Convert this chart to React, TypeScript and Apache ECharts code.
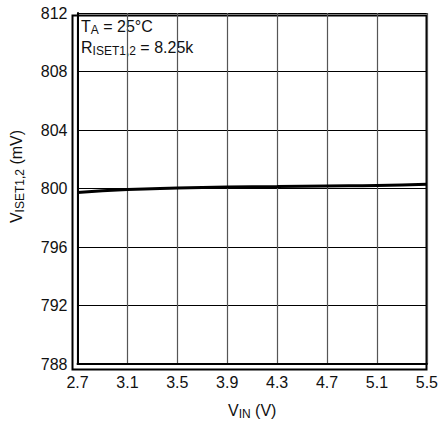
import React, { useEffect, useRef } from "react";
import * as echarts from "echarts";

const X_MIN = 2.7;
const X_MAX = 5.5;
const X_STEP = 0.4;
const Y_MIN = 788;
const Y_MAX = 812;
const Y_STEP = 4;

const vin = [2.7, 3.1, 3.5, 3.9, 4.3, 4.7, 5.1, 5.5];
const viset = [799.73, 799.93, 800.03, 800.1, 800.13, 800.17, 800.2, 800.29];

const FONT = "'Liberation Sans', Arial, sans-serif";

const richMain = { fontFamily: FONT, fontSize: 16, color: "#111" };
const richSub = { fontFamily: FONT, fontSize: 12, color: "#111", padding: [7, 0, 0, 0] };

export default function App() {
  const ref = useRef<HTMLDivElement>(null);
  useEffect(() => {
    const chart = echarts.init(ref.current!, null, { renderer: "svg" });
    const data = vin.map((x, i) => [+(x - X_MIN).toFixed(4), viset[i]]);
    chart.setOption({
      animation: false,
      grid: { left: 75, right: 12, top: 13, bottom: 58, show: false },
      xAxis: {
        type: "value",
        min: 0,
        max: +(X_MAX - X_MIN).toFixed(4),
        interval: X_STEP,
        axisLine: { show: true, onZero: false, lineStyle: { color: "#000", width: 2 } },
        axisTick: { show: false },
        splitLine: { show: true, lineStyle: { color: "#555", width: 1.2 } },
        axisLabel: {
          color: "#111",
          fontFamily: FONT,
          fontSize: 16,
          margin: 10,
          formatter: (v: number) => (v + X_MIN).toFixed(1),
        },
        name: "{m|V}{s|IN}{m| (V)}",
        nameLocation: "middle",
        nameGap: 37,
        nameTextStyle: { rich: { m: richMain, s: richSub } },
      },
      yAxis: {
        type: "value",
        min: Y_MIN,
        max: Y_MAX,
        interval: Y_STEP,
        axisLine: { show: true, lineStyle: { color: "#000", width: 2 } },
        axisTick: { show: false },
        splitLine: { show: true, lineStyle: { color: "#000", width: 1.2 } },
        axisLabel: {
          color: "#111",
          fontFamily: FONT,
          fontSize: 16,
          margin: 10,
        },
        name: "{m|V}{s|ISET1,2}{m| (mV)}",
        nameLocation: "middle",
        nameGap: 52,
        nameRotate: 90,
        nameTextStyle: { rich: { m: richMain, s: richSub }, padding: [0, 0, 0, 24] },
      },
      graphic: [
        {
          type: "rect",
          right: 12,
          top: 13,
          shape: { width: 354, height: 354 },
          style: { fill: "none", stroke: "#000", lineWidth: 2 },
          silent: true,
        },
        {
          type: "text",
          left: 81,
          top: 18,
          style: {
            text: "{m|T}{s|A}{m| = 25°C}",
            rich: {
              m: { fontFamily: FONT, fontSize: 16, fill: "#111" },
              s: { fontFamily: FONT, fontSize: 12, fill: "#111", padding: [7, 0, 0, 0] },
            },
          },
        },
        {
          type: "text",
          left: 81,
          top: 39,
          style: {
            text: "{m|R}{s|ISET1,2}{m| = 8.25k}",
            rich: {
              m: { fontFamily: FONT, fontSize: 16, fill: "#111" },
              s: { fontFamily: FONT, fontSize: 12, fill: "#111", padding: [7, 0, 0, 0] },
            },
          },
        },
      ],
      series: [
        {
          type: "line",
          data,
          showSymbol: false,
          smooth: true,
          lineStyle: { color: "#000", width: 3 },
        },
      ],
    });
    return () => chart.dispose();
  }, []);
  return (
    <div
      ref={ref}
      style={{ position: "absolute", left: 0, top: 0, width: 441, height: 425 }}
    />
  );
}
